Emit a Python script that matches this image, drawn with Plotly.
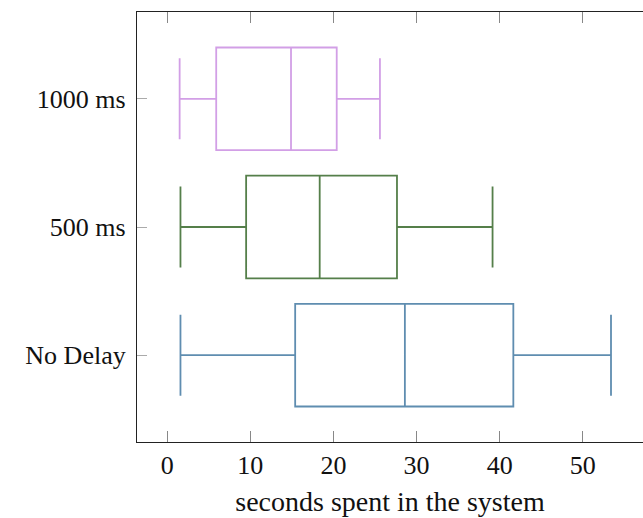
import plotly.graph_objects as go

categories = ["No Delay", "500 ms", "1000 ms"]
lower = [1.6, 1.6, 1.5]
q1 = [15.4, 9.5, 5.9]
median = [28.6, 18.35, 14.9]
q3 = [41.65, 27.65, 20.4]
upper = [53.4, 39.15, 25.6]
colors = ["#5f8db0", "#557f4a", "#d29fe6"]
xticks = [0, 10, 20, 30, 40, 50]

fig = go.Figure()
for i, c in enumerate(categories):
    fig.add_trace(go.Box(
        y=[c], q1=[q1[i]], median=[median[i]], q3=[q3[i]],
        lowerfence=[lower[i]], upperfence=[upper[i]],
        orientation="h", width=0.8, whiskerwidth=0.79,
        line=dict(color=colors[i], width=1.8),
        fillcolor="rgba(0,0,0,0)", boxpoints=False, showlegend=False,
    ))

fam = "Liberation Serif, Times New Roman, serif"
tickfont = dict(family=fam, size=26, color="#111")
titlefont = dict(family=fam, size=28, color="#111")
fig.update_layout(
    width=643, height=518,
    margin=dict(l=136.5, r=0, t=12, b=76),
    plot_bgcolor="white", paper_bgcolor="white",
    font=tickfont,
    xaxis=dict(
        range=[-3.63, 57.25], tickvals=xticks, ticks="inside", ticklen=11,
        tickcolor="#888", tickwidth=1, showline=True, linecolor="#222",
        linewidth=1.2, mirror="ticks", showgrid=False, zeroline=False,
        title=dict(text="seconds spent in the system", standoff=12, font=titlefont),
        tickfont=tickfont,
    ),
    yaxis=dict(
        type="category", categoryorder="array", categoryarray=categories,
        range=[-0.677, 2.677], ticks="inside", ticklen=10, tickcolor="#aaa",
        showline=True, linecolor="#222", linewidth=1.2, showgrid=False,
        zeroline=False, tickfont=tickfont, ticklabelstandoff=5,
    ),
)
fig.write_html("out.html", config={"displayModeBar": False},
               post_script="document.body.style.margin='0';document.body.style.overflow='hidden';")
